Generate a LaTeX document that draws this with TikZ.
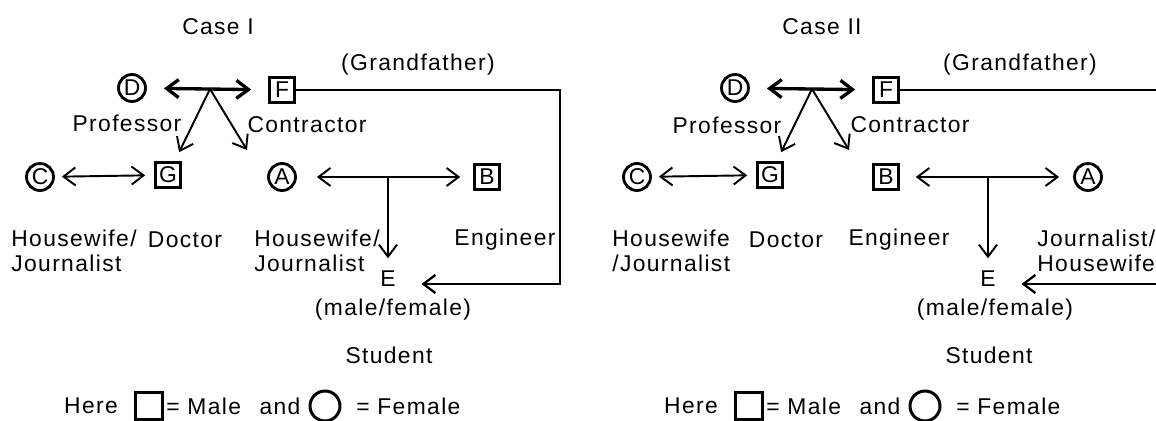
\documentclass[tikz,border=0pt]{standalone}
\usepackage{fontspec}
\setmainfont{Liberation Sans}[LetterSpace=6]
\usetikzlibrary{arrows.meta,positioning}

\begin{document}
\begin{tikzpicture}[x=0.02cm, y=-0.02cm,
   font=\fontsize{13}{14}\selectfont,
   fem/.style={circle, draw, line width=1.6pt, minimum size=0.54cm, inner sep=0pt},
   mal/.style={rectangle, draw, line width=1.5pt, minimum size=0.5cm, inner sep=0pt},
   rel/.style={line width=1.1pt, {Straight Barb[length=2.4mm,width=3.6mm]}-{Straight Barb[length=2.4mm,width=3.6mm]}},
   kid/.style={line width=1.1pt, -{Straight Barb[length=2.4mm,width=3.6mm]}},
   txt/.style={inner sep=0pt, align=left, anchor=west}]
   \useasboundingbox (0,0) rectangle (1156,421);
   \clip (0,0) rectangle (1156,421);

   % Case I
   \node at (218,27) {Case I};
   \node at (418,65) {(Grandfather)};
   \node[fem] (D1) at (132,88) {D};
   \node[mal] (F1) at (282,90) {F};
   \coordinate (jDF1) at (210,89);
   \coordinate (g1) at (247,150);
   \node[fem] (C1) at (40,177) {C};
   \node[mal] (G1) at (168,175) {G};
   \node[fem] (A1) at (282,177) {A};
   \node[mal] (B1) at (487,177) {B};
   \coordinate (jAB1) at (388,177);
   \node[inner sep=2pt] (E1) at (388,279) {E};
   \coordinate (r1) at (560,284);
   \node at (127,123) {Professor};
   \node at (307,125) {Contractor};
   \node[txt] at (11,251) {Housewife/\\Journalist};
   \node at (185,240) {Doctor};
   \node[txt] at (254,251) {Housewife/\\Journalist};
   \node at (505,240) {Engineer};
   \node at (393,310) {(male/female)};
   \node at (389,355) {Student};

   \draw[rel, line width=1.9pt, shorten <=0.34cm, shorten >=0.34cm] (D1) -- (F1);
   \draw[kid, shorten >=0.2cm] (jDF1) -- (G1);
   \draw[kid] (jDF1) -- (g1);
   \draw[rel, shorten <=0.14cm, shorten >=0.18cm] (C1) -- (G1);
   \draw[rel, shorten <=0.4cm, shorten >=0.26cm] (A1) -- (B1);
   \draw[kid, shorten >=0.18cm] (jAB1) -- (E1.north);
   \draw[line width=1.3pt, -{Straight Barb[length=2.4mm,width=3.6mm]}, shorten >=0.44cm]
      (F1.east) -| (r1) -- (r1 -| E1.east);

   % Case II
   \node at (822,27) {Case II};
   \node at (1020,65) {(Grandfather)};
   \node[fem] (D2) at (735,88) {D};
   \node[mal] (F2) at (886,90) {F};
   \coordinate (jDF2) at (812,89);
   \coordinate (g2) at (849,150);
   \node[fem] (C2) at (637,177) {C};
   \node[mal] (G2) at (770,175) {G};
   \node[mal] (B2) at (886,177) {B};
   \node[fem] (A2) at (1088,177) {A};
   \coordinate (jBA2) at (988,177);
   \node[inner sep=2pt] (E2) at (988,279) {E};
   \coordinate (r2) at (1162,284);
   \node at (727,125) {Professor};
   \node at (910,125) {Contractor};
   \node[txt] at (612,251) {Housewife\\/Journalist};
   \node at (786,240) {Doctor};
   \node at (899,240) {Engineer};
   \node[txt] at (1037,251) {Journalist/\\Housewife};
   \node at (995,310) {(male/female)};
   \node at (989,355) {Student};

   \draw[rel, line width=1.9pt, shorten <=0.34cm, shorten >=0.34cm] (D2) -- (F2);
   \draw[kid, shorten >=0.2cm] (jDF2) -- (G2);
   \draw[kid] (jDF2) -- (g2);
   \draw[rel, shorten <=0.14cm, shorten >=0.18cm] (C2) -- (G2);
   \draw[rel, shorten <=0.32cm, shorten >=0.28cm] (B2) -- (A2);
   \draw[kid, shorten >=0.18cm] (jBA2) -- (E2.north);
   \draw[line width=1.3pt, -{Straight Barb[length=2.4mm,width=3.6mm]}, shorten >=0.44cm]
      (F2.east) -| (r2) -- (r2 -| E2.east);

   % legends
   \foreach \dx/\n in {0/1, 600/2} {
     \node (here\n) at (91+\dx,406) {Here};
     \node[mal, line width=1.7pt, minimum size=0.54cm] (sq\n) at (149+\dx,406) {};
     \node[txt] (male\n) at (166+\dx,406) {= Male};
     \node (and\n) at (280+\dx,406) {and};
     \node[fem, line width=1.7pt, minimum size=0.6cm] (ci\n) at (325+\dx,406) {};
     \node[txt] (female\n) at (356+\dx,406) {= Female};
   }
\end{tikzpicture}
\end{document}
